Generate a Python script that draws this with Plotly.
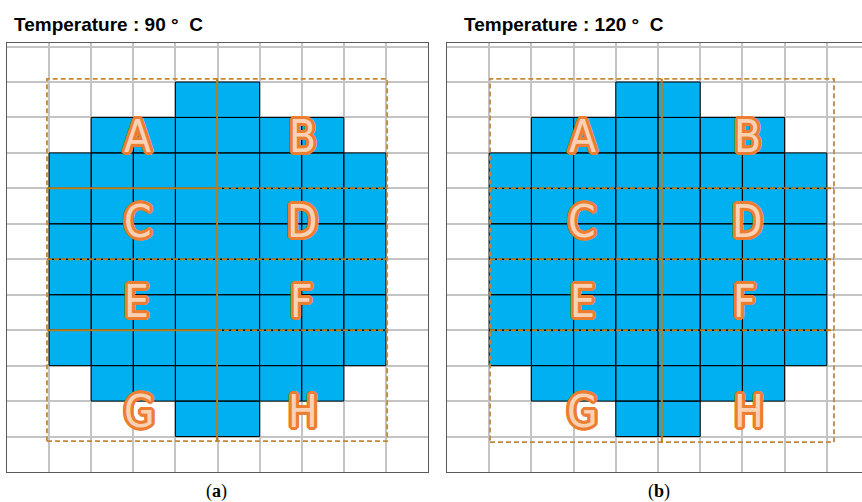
import plotly.graph_objects as go

# ---------------- data ----------------
titles = ["Temperature : 90 °\u00a0\u00a0C", "Temperature : 120 °\u00a0\u00a0C"]
captions = ["(<b>a</b>)", "(<b>b</b>)"]

# occupancy grid, rows listed from top to bottom (1 = filled cell)
cells_a = [
    "0000000000",
    "0000110000",
    "0011111100",
    "0111111110",
    "0111111110",
    "0111111110",
    "0111111110",
    "0111111110",
    "0111111110",
    "0011111100",
    "0000110000",
    "0000000000",
]
cells_b = [
    "0000000000",
    "0000110000",
    "0011111100",
    "0111111110",
    "0111111110",
    "0111111110",
    "0111111110",
    "0111111110",
    "0111111110",
    "0011111100",
    "0000110000",
    "0000000000",
]

zone_labels = ["A", "B", "C", "D", "E", "F", "G", "H"]
# label centres in grid units (column, row-from-bottom)
label_col_a = [3.1, 7.03, 3.1, 7.03, 3.07, 7.0, 3.15, 7.03]
label_col_b = [3.2, 7.13, 3.2, 7.13, 3.2, 7.06, 3.22, 7.15]
label_row = [9.47, 9.47, 7.07, 7.07, 4.82, 4.82, 1.72, 1.72]

# zone box (x0, x1, y0, y1) and divider positions in grid units
box_a = [0.95, 9.03, 0.87, 11.09]
box_b = [1.02, 9.17, 0.84, 11.09]
split_col_a = 4.99
split_col_b = 5.09
divider_rows = [8.0, 6.0, 4.0]

# ---------------- styling ----------------
BLUE = "#00B0F0"
GRID = "#C4C4C4"
FRAME = "#5A5A5A"
BOX = "#C4883A"
SPLIT = "#BF7B16"
ORANGE = "#ED7D31"

W, H = 862, 502
n_rows = 12

fig = go.Figure()


def cell_trace(cells, xa, ya):
    xs, ys = [], []
    for r, row in enumerate(cells):
        y0 = n_rows - 1 - r
        for c, v in enumerate(row):
            if v == "1":
                xs += [c, c + 1, c + 1, c, c, None]
                ys += [y0, y0, y0 + 1, y0 + 1, y0, None]
    return go.Scatter(x=xs, y=ys, mode="lines", fill="toself", fillcolor=BLUE,
                      line=dict(color="black", width=1), xaxis=xa, yaxis=ya,
                      hoverinfo="skip", showlegend=False)


def line(x, y, xa, ya, color, dash, width=1.8):
    fig.add_trace(go.Scatter(x=x, y=y, mode="lines", xaxis=xa, yaxis=ya,
                             line=dict(color=color, width=width, dash=dash),
                             hoverinfo="skip", showlegend=False))


panels = [
    dict(cells=cells_a, xa="x", ya="y", box=box_a, split=split_col_a,
         cols=label_col_a, solid_left=[8.0, 4.0]),
    dict(cells=cells_b, xa="x2", ya="y2", box=box_b, split=split_col_b,
         cols=label_col_b, solid_left=[]),
]

offs = []
for dx in (-3, -2, -1, 0, 1, 2, 3):
    for dy in (-3, -2, -1, 0, 1, 2, 3):
        if (dx, dy) != (0, 0) and dx * dx + dy * dy <= 10:
            offs.append((dx, dy))
shadow = ", ".join(f"{dx}px {dy}px 0px {ORANGE}" for dx, dy in offs)

for p in panels:
    fig.add_trace(cell_trace(p["cells"], p["xa"], p["ya"]))
    x0, x1, y0, y1 = p["box"]
    for yv in divider_rows:
        if yv in p["solid_left"]:
            line([x0, p["split"]], [yv, yv], p["xa"], p["ya"], SPLIT, "solid", 2)
            line([p["split"], x1], [yv, yv], p["xa"], p["ya"], SPLIT, "5px,2px", 2)
        else:
            line([x0, x1], [yv, yv], p["xa"], p["ya"], SPLIT, "5px,2px", 2)
    line([x0, x1, x1, x0, x0], [y0, y0, y1, y1, y0], p["xa"], p["ya"], BOX, "5px,3px", 1.8)
    line([p["split"], p["split"]], [y0, y1], p["xa"], p["ya"], SPLIT, "solid", 2)
    for lab, cx, cy in zip(zone_labels, p["cols"], label_row):
        fig.add_annotation(x=cx, y=cy, xref=p["xa"], yref=p["ya"], text=lab,
                           showarrow=False, xanchor="center", yanchor="middle",
                           font=dict(family="Liberation Sans Narrow, DejaVu Sans Condensed, Arial Narrow, sans-serif",
                                     size=44, color="#F9D2B6", shadow=shadow))

axis_common = dict(showgrid=True, gridcolor=GRID, gridwidth=1.6, dtick=1, tick0=0,
                   showticklabels=False, ticks="", zeroline=False, showline=True,
                   linecolor=FRAME, linewidth=1.3, fixedrange=True)

ydom = [1 - 472 / H, 1 - 43 / H]
fig.update_layout(
    width=W, height=H, margin=dict(l=0, r=0, t=0, b=0),
    paper_bgcolor="white", plot_bgcolor="white",
    xaxis=dict(domain=[7 / W, 428 / W], range=[0, 10], anchor="y", mirror=True, **axis_common),
    yaxis=dict(domain=ydom, range=[0, 12.1], anchor="x", mirror=True, **axis_common),
    xaxis2=dict(domain=[447 / W, 1], range=[0, (W - 447) / 42.2], anchor="y2", mirror=True, **axis_common),
    yaxis2=dict(domain=ydom, range=[0, 12.1], anchor="x2", mirror=False, **axis_common),
)

# panel titles and captions
for txt, xp in zip(titles, [12, 462]):
    fig.add_annotation(x=xp / W, y=1 - 25 / H, xref="paper", yref="paper", text=f"<b>{txt}</b>",
                       showarrow=False, xanchor="left", yanchor="middle",
                       font=dict(family="Liberation Sans, Arial, sans-serif", size=19, color="black"))
for txt, xp in zip(captions, [216, 659]):
    fig.add_annotation(x=xp / W, y=1 - 491 / H, xref="paper", yref="paper", text=txt,
                       showarrow=False, xanchor="center", yanchor="middle",
                       font=dict(family="Liberation Serif, DejaVu Serif, serif", size=18, color="black"))

fig.write_html("out.html", config={"displayModeBar": False},
               post_script="document.body.style.margin='0';document.body.style.overflow='hidden';")
